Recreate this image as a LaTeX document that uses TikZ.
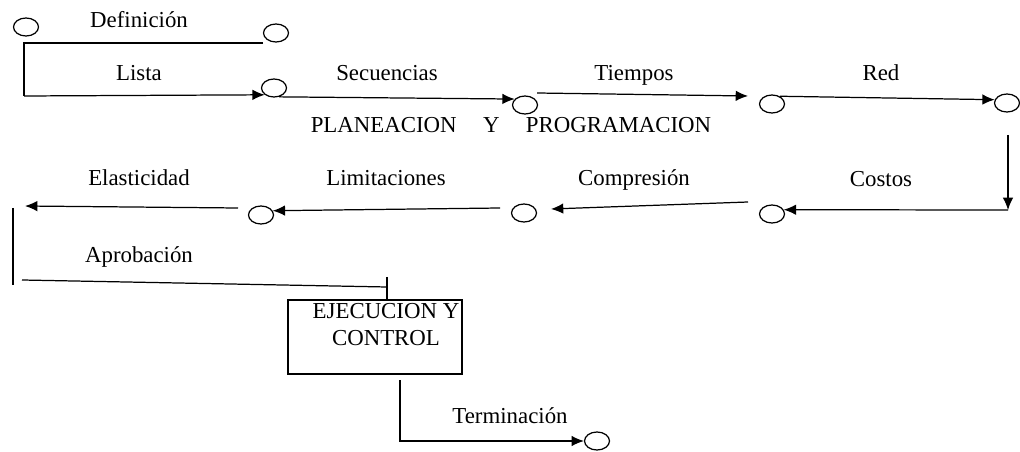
\documentclass[tikz,border=0pt]{standalone}
\usepackage{fontspec}
\setmainfont{Liberation Serif}
\usetikzlibrary{shapes,arrows.meta,positioning,calc}

\begin{document}
\begin{tikzpicture}[x=0.02cm, y=-0.02cm, line width=0.7pt,
  ev/.style={draw, ellipse, minimum width=0.5cm, minimum height=0.36cm, inner sep=0pt},
  lbl/.style={draw=none, anchor=base, font=\fontsize{13}{15}\selectfont},
  arr/.style={-{Latex[length=7pt,width=6pt]}}]

\useasboundingbox (0,0) rectangle (1020,452);

% Events (circles)
\node[ev] (e1) at (26,27) {};
\node[ev] (e2) at (276,33) {};
\node[ev] (e3) at (274,88) {};
\node[ev] (e4) at (525,105) {};
\node[ev] (e5) at (772,104) {};
\node[ev] (e6) at (1007,103) {};
\node[ev] (e7) at (772,214) {};
\node[ev] (e8) at (524,213) {};
\node[ev] (e9) at (261,215) {};
\node[ev] (e10) at (597,441) {};

% Execution box
\node[draw, line width=1.1pt, minimum width=3.48cm, minimum height=1.48cm] (exec) at (375,337) {};
\node[lbl, align=center] (exectxt) at (386,345) {EJECUCION Y\\CONTROL};

% Free ends
\coordinate (d0) at (24,43);
\coordinate (d1) at (263,43);
\coordinate (l0) at (24,96);
\coordinate (t0) at (537,93);
\coordinate (t1) at (748,96);
\coordinate (v0) at (1008,135);
\coordinate (v1) at (1008,210);
\coordinate (k0) at (748,202);
\coordinate (k1) at (551,209);
\coordinate (m0) at (500,208);
\coordinate (s0) at (238,208);
\coordinate (s1) at (25,206);
\coordinate (b0) at (13,208);
\coordinate (b1) at (13,285);
\coordinate (a0) at (22,280);
\coordinate (a1) at (387,287);
\coordinate (a2) at (387,277);
\coordinate (q0) at (400,380);
\coordinate (q1) at (400,441);

% Planning chain (top row)
\draw (d1) -- (d0) -- (l0);
\draw[arr] (l0) -- (e3.south west);
\draw[arr] (e3.-60) -- (e4.150);
\draw[arr] (t0) -- (t1);
\draw[arr] (e5.45) -- (e6.165);
\draw[arr] (v0) -- (v1);

% Planning chain (bottom row)
\draw[arr] (v1) -- (e7.20);
\draw[arr] (k0) -- (k1);
\draw[arr] (m0) -- (e9.20);
\draw[arr] (s0) -- (s1);
\draw (b0) -- (b1);

% Approval and execution
\draw (a0) -- (a1);
\draw (a2) -- (a2 |- exec.north);
\draw[arr] (q0) -- (q1) -- (e10.west);

% Labels
\node[lbl] (lDef) at (139,28) {Definición};
\node[lbl] (lLis) at (139,81) {Lista};
\node[lbl] (lSec) at (387,81) {Secuencias};
\node[lbl] (lTie) at (634,81) {Tiempos};
\node[lbl] (lRed) at (881,81) {Red};
\node[lbl] (lPla) at (511,133) {PLANEACION\hspace{15pt}Y\hspace{15pt}PROGRAMACION};
\node[lbl] (lCos) at (881,187) {Costos};
\node[lbl] (lCom) at (634,186) {Compresión};
\node[lbl] (lLim) at (386,186) {Limitaciones};
\node[lbl] (lEla) at (139,186) {Elasticidad};
\node[lbl] (lApr) at (139,263) {Aprobación};
\node[lbl] (lTer) at (510,423) {Terminación};

\end{tikzpicture}
\end{document}
